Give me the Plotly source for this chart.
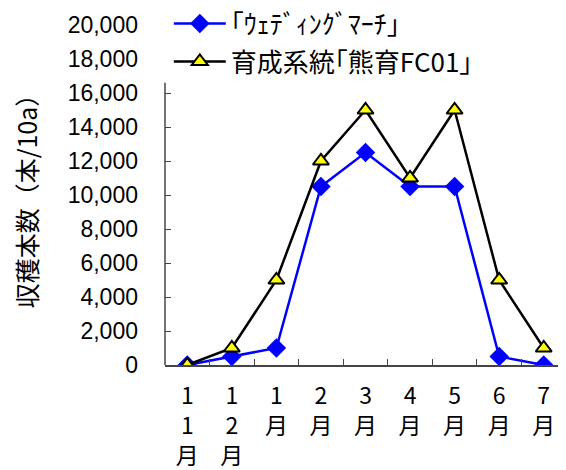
import plotly.graph_objects as go

categories = ["1<br>1<br>月", "1<br>2<br>月", "1<br>月", "2<br>月", "3<br>月", "4<br>月", "5<br>月", "6<br>月", "7<br>月"]
wedding_march = [0, 500, 1000, 10500, 12500, 10500, 10500, 500, 0]
kumaiku_fc01 = [0, 1000, 5000, 12000, 15000, 11000, 15000, 5000, 1000]
y_ticks = [0, 2000, 4000, 6000, 8000, 10000, 12000, 14000, 16000, 18000, 20000]

JP = "Noto Sans CJK JP"
NUM = "Liberation Sans, Noto Sans CJK JP"

fig = go.Figure()
fig.add_trace(go.Scatter(
    x=categories, y=wedding_march, name="｢ｳｪﾃﾞｨﾝｸﾞﾏｰﾁ｣",
    mode="lines+markers", legendgroup="a",
    line=dict(color="#0000FF", width=2.5),
    marker=dict(symbol="diamond", size=15, color="#0000FF", line=dict(width=0)),
))
fig.add_trace(go.Scatter(
    x=categories, y=kumaiku_fc01, name="育成系統｢熊育FC01｣",
    mode="lines+markers", legendgroup="b",
    line=dict(color="#000000", width=2.5),
    marker=dict(symbol="triangle-up", size=14, color="#FFFF00", line=dict(width=2, color="#000000")),
))

# the page body has an 8px margin, so the figure is drawn 8px in from the window edge
fig.update_layout(
    width=558, height=462,
    margin=dict(l=157, r=0, t=17, b=105, autoexpand=False),
    paper_bgcolor="white", plot_bgcolor="white",
    font=dict(family=JP, size=23, color="black"),
    showlegend=True,
    legend=dict(x=0.0095, y=1.073, xanchor="left", yanchor="top",
                bgcolor="rgba(0,0,0,0)", font=dict(size=26, family=JP),
                tracegroupgap=1, itemwidth=52, traceorder="grouped"),
    xaxis=dict(
        type="category", showline=True, linecolor="#444", linewidth=1.5,
        ticks="inside", tickson="boundaries", ticklen=6, tickcolor="#444",
        showgrid=False, zeroline=False, range=[-0.5, 8.5], automargin=False,
        tickfont=dict(size=23, family=JP), ticklabelstandoff=10,
    ),
    yaxis=dict(
        range=[0, 20000], tickvals=y_ticks, tickformat=",d", automargin=False,
        showline=False, ticks="inside", ticklen=6, tickcolor="#444",
        showgrid=False, zeroline=False, ticklabelstandoff=26,
        tickfont=dict(size=23, family=NUM),
        title=dict(text="収穫本数（本/10a）", font=dict(size=25, family=JP), standoff=32),
    ),
)

# white box behind legend that hides the top of the value axis
fig.add_shape(type="rect", xref="paper", yref="paper", x0=-0.02, x1=0.8, y0=0.83, y1=1.1,
              fillcolor="white", line=dict(width=0), layer="above")
# visible part of the value axis line
fig.add_shape(type="line", xref="paper", yref="paper", x0=0, x1=0, y0=0, y1=0.83,
              line=dict(color="#444", width=1.5), layer="above")

fig.write_html("out.html")
